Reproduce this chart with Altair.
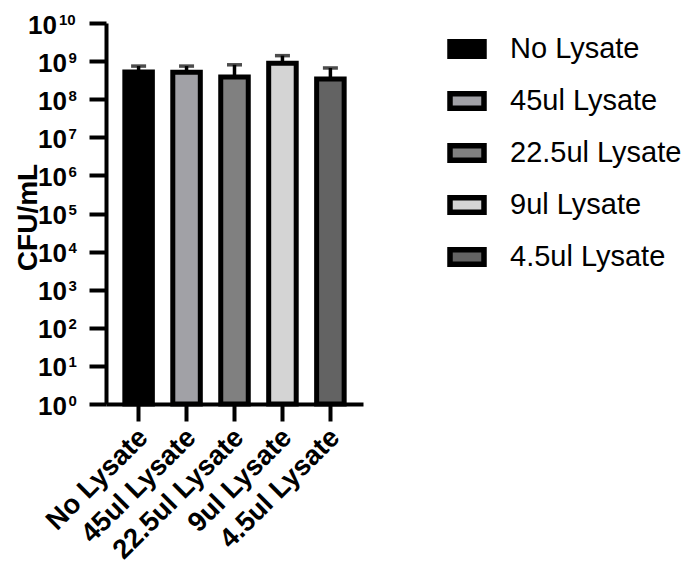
import altair as alt
import pandas as pd

categories = ["No Lysate", "45ul Lysate", "22.5ul Lysate", "9ul Lysate", "4.5ul Lysate"]
means = [5.2e8, 5.1e8, 3.8e8, 8.8e8, 3.4e8]
upper = [7.4e8, 7.4e8, 8.0e8, 1.39e9, 6.6e8]
colors = ["#000000", "#a1a1a6", "#808080", "#d4d4d4", "#636363"]
exponents = [0, 1, 2, 3, 4, 5, 6, 7, 8, 9, 10]

FONT = "Liberation Sans"

df = pd.DataFrame({"group": categories, "mean": means, "upper": upper})
ticks_df = pd.DataFrame({"exp": exponents, "val": [10.0 ** e for e in exponents]})

xscale = alt.Scale(domain=categories, paddingInner=0.426, paddingOuter=0.393)
yscale = alt.Scale(type="log", domain=[1, 1e10], nice=False)

x_enc = alt.X(
    "group:N",
    sort=categories,
    scale=xscale,
    title=None,
    axis=alt.Axis(
        labelAngle=315,
        labelAlign="right",
        labelBaseline="middle",
        labelFont=FONT,
        labelFontSize=27.5,
        labelFontWeight="bold",
        labelColor="black",
        labelPadding=12,
        labelOffset=5,
        labelLimit=0,
        tickSize=17,
        tickWidth=4,
        tickColor="black",
        domainWidth=4,
        domainColor="black",
        labelOverlap=False,
    ),
)

y_enc = alt.Y(
    "mean:Q",
    scale=yscale,
    axis=alt.Axis(
        values=[10.0 ** e for e in exponents],
        labels=False,
        grid=False,
        tickSize=17,
        tickWidth=4,
        tickColor="black",
        domainWidth=4,
        domainColor="black",
        title="CFU/mL",
        titleFont=FONT,
        titleFontSize=28,
        titleFontWeight="bold",
        titleColor="black",
        titleAngle=270,
        titleAlign="center",
        titleBaseline="alphabetic",
        titleX=-70,
        titleY=194,
    ),
)

base = alt.Chart(df)

err_rule = base.mark_rule(color="black", strokeWidth=3.5).encode(
    x=alt.X("group:N", sort=categories, scale=xscale),
    y=alt.Y("mean:Q", scale=yscale),
    y2="upper:Q",
)
err_cap = base.mark_tick(color="black", orient="horizontal", size=15, thickness=3.5).encode(
    x=alt.X("group:N", sort=categories, scale=xscale),
    y=alt.Y("upper:Q", scale=yscale),
)

bars = base.mark_bar(stroke="black", strokeWidth=5, opacity=1).encode(
    x=x_enc,
    y=y_enc,
    y2=alt.datum(1),
    fill=alt.Fill(
        "group:N",
        sort=categories,
        scale=alt.Scale(domain=categories, range=colors),
        legend=alt.Legend(
            orient="none",
            legendX=341,
            legendY=6,
            title=None,
            padding=0,
            symbolType="M-1,-0.42H1V0.42H-1Z",
            symbolSize=1156,
            symbolStrokeColor="black",
            symbolStrokeWidth=5.5,
            symbolOpacity=1,
            labelFont=FONT,
            labelFontSize=29,
            labelColor="black",
            labelOffset=23,
            labelLimit=0,
            rowPadding=13,
        ),
    ),
)

tick_base = alt.Chart(ticks_df)

lab10_single = tick_base.transform_filter(alt.datum.exp < 10).mark_text(
    font=FONT, fontSize=26, fontWeight="bold", align="right", baseline="alphabetic", dy=10.5, color="black"
).encode(x=alt.value(-39), y=alt.Y("val:Q", scale=yscale), text=alt.value("10"))

exp_single = tick_base.transform_filter(alt.datum.exp < 10).mark_text(
    font=FONT, fontSize=15, fontWeight="bold", align="left", baseline="alphabetic", dy=1.5, color="black"
).encode(x=alt.value(-37.5), y=alt.Y("val:Q", scale=yscale), text=alt.Text("exp:N"))

lab10_double = tick_base.transform_filter(alt.datum.exp >= 10).mark_text(
    font=FONT, fontSize=26, fontWeight="bold", align="right", baseline="alphabetic", dy=10.5, color="black"
).encode(x=alt.value(-49), y=alt.Y("val:Q", scale=yscale), text=alt.value("10"))

exp_double = tick_base.transform_filter(alt.datum.exp >= 10).mark_text(
    font=FONT, fontSize=15, fontWeight="bold", align="left", baseline="alphabetic", dy=1.5, color="black"
).encode(x=alt.value(-47), y=alt.Y("val:Q", scale=yscale), text=alt.Text("exp:N"))

chart = (
    alt.layer(err_rule, err_cap, bars, lab10_single, exp_single, lab10_double, exp_double)
    .properties(
        width=257,
        height=381,
        padding={"left": 98, "top": 15, "right": 320, "bottom": 163},
        autosize=alt.AutoSizeParams(type="none"),
        background="white",
    )
    .configure_view(stroke=None)
)

chart.save("out.html", embed_options={"renderer": "svg", "actions": False})
